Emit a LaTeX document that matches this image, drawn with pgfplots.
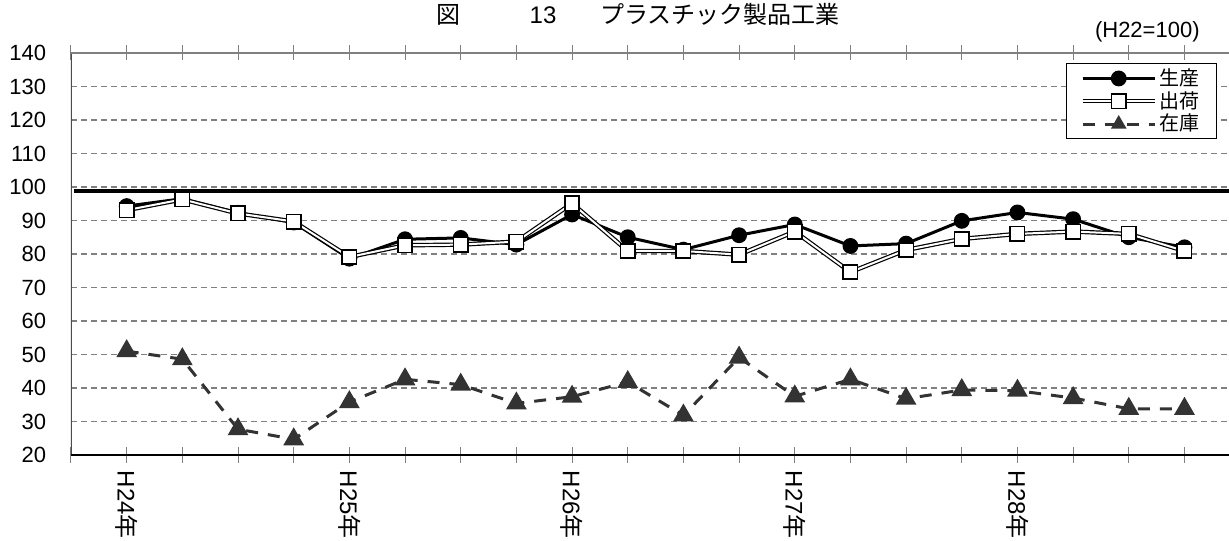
\documentclass[border=0pt]{standalone}
\usepackage{fontspec}
\setmainfont{Liberation Sans}
\newfontfamily\jp{Noto Sans CJK JP}
\usepackage{pgfplots}
\usepackage{pgfplotstable}
\pgfplotsset{compat=1.18}
\definecolor{invc}{gray}{0.2}
\pgfplotstableread{
x prod ship inv
1 94.3 93.1 51.0
2 96.5 96.3 48.6
3 92.3 92.1 27.7
4 89.4 89.7 24.7
5 78.6 79.1 35.8
6 84.4 82.6 42.6
7 84.8 82.8 41.0
8 82.8 83.7 35.4
9 91.8 95.1 37.4
10 85.0 80.9 41.8
11 81.3 80.9 31.8
12 85.6 79.8 49.1
13 88.8 86.7 37.5
14 82.4 74.6 42.6
15 83.1 81.2 36.8
16 89.9 84.5 39.4
17 92.4 86.0 39.2
18 90.4 86.7 37.0
19 85.0 86.0 33.8
20 82.0 80.9 33.8
}\datatable
\begin{document}
\begin{tikzpicture}
\useasboundingbox (0,0) rectangle (614.5pt,270pt);
\begin{axis}[
  at={(35.5pt,42.5pt)}, anchor=south west,
  scale only axis, width=579pt, height=201pt,
  xmin=0, xmax=20.8, ymin=20, ymax=140,
  axis line style={draw=none},
  xtick={0,...,20},
  xticklabels={,H24{\jp 年},,,,H25{\jp 年},,,,H26{\jp 年},,,,H27{\jp 年},,,,H28{\jp 年},,,},
  xticklabel style={yshift=-4pt, rotate=-90, anchor=west, inner sep=0pt, font=\fontsize{12}{14}\selectfont},
  x tick style={gray, line width=0.5pt},
  major tick length=7.5pt, tick align=center,
  ytick={20,30,...,140},
  y tick style={draw=none},
  yticklabel style={font=\fontsize{11}{13}\selectfont, inner sep=0pt, xshift=-8.5pt},
  /pgf/number format/assume math mode=true,
  ymajorgrids, grid style={gray, dash pattern=on 3pt off 2pt, line width=0.7pt},
  legend style={at={(0.990,0.975)}, anchor=north east, draw=black, line width=0.5pt,
    font=\fontsize{10}{12}\selectfont\jp, inner xsep=7pt, inner ysep=1pt, row sep=-1.5pt,
    nodes={inner sep=1.5pt}},
  legend cell align=left,
  legend image code/.code={\draw[mark repeat=2, mark phase=2] plot coordinates {(0pt,0pt) (18pt,0pt) (36pt,0pt)};},
]
\addplot[black, line width=1.6pt, forget plot] coordinates {(0.05,98.8) (20.8,98.8)};
\addplot[black, line width=1.5pt, mark=*, mark size=3.2pt, mark options={solid}] table[x=x, y=prod] {\datatable};
\addlegendentry{生産}
\addplot[black, line width=0.6pt, double=white, double distance=1pt, mark=square*, mark size=3.6pt, mark options={fill=white, draw=black, line width=0.8pt}] table[x=x, y=ship] {\datatable};
\addlegendentry{出荷}
\addplot[invc, line width=1.5pt, dash pattern=on 6pt off 5pt, mark=triangle*, mark size=4.5pt, mark options={solid, fill=invc}, legend image post style={mark size=3pt}] table[x=x, y=inv] {\datatable};
\addlegendentry{在庫}
\draw[gray!60!black, line width=0.8pt] (rel axis cs:0,0) -- (rel axis cs:0,1);
\draw[gray, line width=0.8pt] (rel axis cs:0,1) -- (rel axis cs:1,1);
\draw[black, line width=1.2pt] (rel axis cs:0,0) -- (rel axis cs:1,0);
\end{axis}
\node[anchor=base, font=\fontsize{12}{14}\selectfont\jp, inner sep=0pt] at (224pt,258pt) {図};
\node[anchor=base, font=\fontsize{12}{14}\selectfont, inner sep=0pt] at (271.5pt,258pt) {13};
\node[anchor=base, font=\fontsize{12}{14}\selectfont\jp, inner sep=0pt] at (360pt,258pt) {プラスチック製品工業};
\node[anchor=base east, font=\fontsize{11}{13}\selectfont, inner sep=0pt] at (600pt,251pt) {(H22=100)};
\end{tikzpicture}
\end{document}
